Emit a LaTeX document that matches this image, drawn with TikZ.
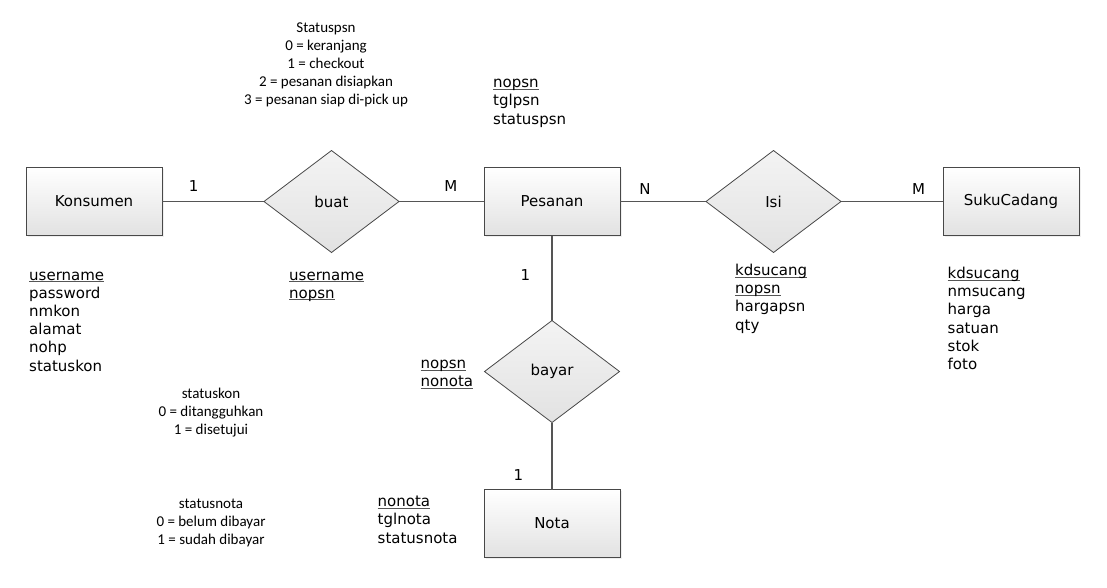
\documentclass[tikz,border=0pt]{standalone}
\usepackage{fontspec}
\setmainfont{DejaVu Sans}
\newfontfamily\notefont{Carlito}
\usepackage{tikz}
\usetikzlibrary{positioning}
\usetikzlibrary{shapes.geometric,shadows}
\usepackage{xcolor}
\definecolor{bordergray}{HTML}{484848}
\definecolor{linegray}{HTML}{555555}
\definecolor{shadegray}{HTML}{E2E2E2}
% key attribute: underline close to the baseline
\newcommand{\keyattr}[1]{{\setbox0\hbox{#1}\rlap{\color{linegray}\rule[-2pt]{\wd0}{0.8pt}}\box0}}

\begin{document}
\begin{tikzpicture}[x=1pt, y=-1pt,
    entity/.style = {draw=bordergray, line width=0.8pt, rectangle, top color=white, bottom color=shadegray,
        minimum width=136pt, minimum height=68pt, inner sep=0pt, outer sep=0pt,
        drop shadow={shadow xshift=1.5pt, shadow yshift=-1.5pt, fill=black!12},
        font=\fontsize{15}{18}\selectfont},
    relation/.style = {draw=bordergray, line width=0.8pt, diamond, top color=white!60!shadegray, bottom color=shadegray,
        minimum width=135pt, minimum height=102pt, inner sep=0pt, outer sep=0pt,
        font=\fontsize{15}{18}\selectfont},
    attr/.style = {align=left, inner sep=0pt, anchor=base west, font=\fontsize{15}{18.2}\selectfont},
    note/.style = {align=center, inner sep=0pt, anchor=base, font=\notefont\fontsize{15}{18}\selectfont},
    card/.style = {inner sep=0pt, font=\fontsize{15}{18}\selectfont},
    link/.style = {draw=linegray, line width=1.6pt}]
		\useasboundingbox (0,0) rectangle (1107,587);
		% entities and relations
		\node[entity] (konsumen) at (94,201.5) {Konsumen};
		\node[relation] (buat) [right=102pt of konsumen] {buat};
		\node[entity] (pesanan) [right=85pt of buat] {Pesanan};
		\node[relation] (isi) [right=86pt of pesanan] {Isi};
		\node[entity] (sukucadang) [right=102pt of isi] {SukuCadang};
		\node[relation] (bayar) [below=85pt of pesanan] {bayar};
		\node[entity] (nota) [below=67pt of bayar] {Nota};
		% connectors
		\draw[link] (konsumen) -- node[card, pos=0.31, above=9.5pt] {1} (buat);
		\draw[link] (buat) -- node[card, pos=0.61, above=9.5pt] {M} (pesanan);
		\draw[link] (pesanan) -- node[card, pos=0.29, above=6.5pt] {N} (isi);
		\draw[link] (isi) -- node[card, pos=0.76, above=6.5pt] {M} (sukucadang);
		\draw[link] (pesanan) -- node[card, pos=0.46, left=21pt] {1} (bayar);
		\draw[link] (bayar) -- node[card, pos=0.79, left=28pt] {1} (nota);
		% attributes (placed at the baseline of the last line)
		\node[attr] (konsumenattr) at (29,371) {\keyattr{username}\\password\\nmkon\\alamat\\nohp\\statuskon};
		\node[attr] (buatattr) at (289,298.2) {\keyattr{username}\\\keyattr{nopsn}};
		\node[attr] (pesananattr) at (493,124) {\keyattr{nopsn}\\tglpsn\\statuspsn};
		\node[attr] (isiattr) at (735,330) {\keyattr{kdsucang}\\\keyattr{nopsn}\\hargapsn\\qty};
		\node[attr] (sukucadangattr) at (947.5,369.5) {\keyattr{kdsucang}\\nmsucang\\harga\\satuan\\stok\\foto};
		\node[attr] (bayarattr) at (420.5,386.7) {\keyattr{nopsn}\\\keyattr{nonota}};
		\node[attr] (notaattr) at (377.5,543) {\keyattr{nonota}\\tglnota\\statusnota};
		% status notes
		\node[note] (statuspsn) at (326,104) {Statuspsn\\0 = keranjang\\1 = checkout\\2 = pesanan disiapkan\\3 = pesanan siap di-pick up};
		\node[note] (statuskon) at (211,434) {statuskon\\0 = ditangguhkan\\1 = disetujui};
		\node[note] (statusnota) at (211,544) {statusnota\\0 = belum dibayar\\1 = sudah dibayar};
\end{tikzpicture}
\end{document}
